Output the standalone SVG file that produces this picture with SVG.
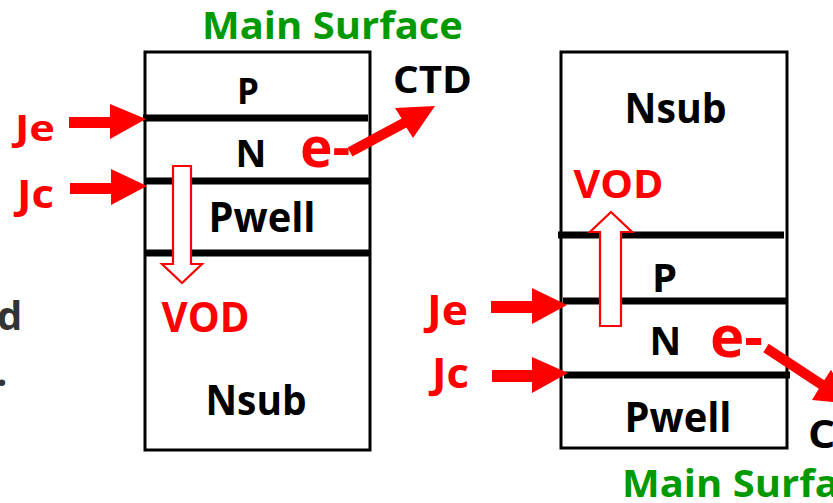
<svg xmlns="http://www.w3.org/2000/svg" width="833" height="503" viewBox="0 0 833 503">
<style>
text{font-family:"Open Sans",Lato,"Liberation Sans",sans-serif;font-weight:bold}
.k{fill:#000}
.r{fill:#ff0000}
.g{fill:#009a00}
.box{fill:#fff;stroke:#000;stroke-width:3}
.jn{stroke:#000;stroke-width:7;fill:none}
.ar{fill:#ff0000;stroke:none}
.hol{fill:#fff;stroke:#ff0000;stroke-width:2.2}
.doc{fill:#333}
</style>
<rect width="833" height="503" fill="#fff"/>
<g id="doc-fragments">
<text class="doc" x="-3" y="330" font-size="40">d</text>
<text class="doc" x="-4" y="386" font-size="40">.</text>
</g>
<g id="device-left">
<rect class="box" x="145" y="52" width="225" height="398"/>
<line class="jn" x1="143" y1="118" x2="368" y2="118"/>
<line class="jn" x1="145" y1="181" x2="370" y2="181"/>
<line class="jn" x1="145" y1="253" x2="370" y2="253"/>
</g>
<g id="label-main-surface-top"><text class="g" x="202" y="39" font-size="38" textLength="261" lengthAdjust="spacingAndGlyphs">Main Surface</text></g>
<g id="label-P-left"><text class="k" x="237" y="104" font-size="35">P</text></g>
<g id="label-N-left"><text class="k" x="235.5" y="167" font-size="38">N</text></g>
<g id="label-Pwell-left"><text class="k" x="208.5" y="232" font-size="41" textLength="107" lengthAdjust="spacingAndGlyphs">Pwell</text></g>
<g id="label-VOD-left"><text class="r" x="161.5" y="332" font-size="41" textLength="88" lengthAdjust="spacingAndGlyphs">VOD</text></g>
<g id="label-Nsub-left"><text class="k" x="205.5" y="415" font-size="41" textLength="101" lengthAdjust="spacingAndGlyphs">Nsub</text></g>
<g id="label-e-left"><text class="r" x="300" y="167" font-size="55">e-</text></g>
<g id="label-CTD-left"><text class="k" x="393" y="93" font-size="37" textLength="79" lengthAdjust="spacingAndGlyphs">CTD</text></g>
<g id="label-Je-left"><text class="r" x="15" y="141" font-size="35" textLength="40" lengthAdjust="spacingAndGlyphs">Je</text></g>
<g id="label-Jc-left"><text class="r" x="17" y="208" font-size="39" textLength="37" lengthAdjust="spacingAndGlyphs">Jc</text></g>

<g id="device-right">
<rect class="box" x="561" y="52" width="226" height="396"/>
<line class="jn" x1="558" y1="235" x2="784" y2="235"/>
<line class="jn" x1="563" y1="301" x2="788" y2="301"/>
<line class="jn" x1="564" y1="375" x2="790" y2="375"/>
</g>
<g id="label-Nsub-right"><text class="k" x="624.5" y="123" font-size="41" textLength="102" lengthAdjust="spacingAndGlyphs">Nsub</text></g>
<g id="label-VOD-right"><text class="r" x="573.5" y="198" font-size="40" textLength="90" lengthAdjust="spacingAndGlyphs">VOD</text></g>
<g id="label-P-right"><text class="k" x="652" y="292" font-size="40">P</text></g>
<g id="label-N-right"><text class="k" x="649.5" y="355" font-size="39">N</text></g>
<g id="label-e-right"><text class="r" x="710" y="357" font-size="58">e-</text></g>
<g id="label-Pwell-right"><text class="k" x="624.5" y="432" font-size="41" textLength="107" lengthAdjust="spacingAndGlyphs">Pwell</text></g>
<g id="label-CTD-right"><text class="k" x="808" y="448" font-size="40" textLength="84" lengthAdjust="spacingAndGlyphs">CTD</text></g>
<g id="label-main-surface-bottom"><text class="g" x="622" y="497" font-size="38" textLength="261" lengthAdjust="spacingAndGlyphs">Main Surface</text></g>
<g id="label-Je-right"><text class="r" x="427" y="325" font-size="41" textLength="41" lengthAdjust="spacingAndGlyphs">Je</text></g>
<g id="label-Jc-right"><text class="r" x="432" y="388" font-size="41" textLength="37" lengthAdjust="spacingAndGlyphs">Jc</text></g>

<g id="connectors">
<polygon class="ar" points="69,117 110,117 110,104 146,119 110,139 110,128 69,128"/>
<polygon class="ar" points="70,183 111,183 111,169 147,186 111,205 111,194 70,194"/>
<polygon class="ar" points="491,301 532,301 532,288 567,305 532,324 532,313 491,313"/>
<polygon class="ar" points="492,370 532,370 532,357 568,373 532,393 532,382 492,382"/>
<polygon class="ar" points="347.6,147.6 401.6,118.6 395,108 435,106 413,138 406.4,127.4 352.4,156.4"/>
<polygon class="ar" points="768.7,343.8 824.2,380.3 831,369.8 850.9,403.5 812,400 818.8,388.7 763.3,352.2"/>
<polygon class="hol" points="173,166 191,166 191,264 202,264 182,283 162,264 173,264"/>
<polygon class="hol" points="600,326 621,326 621,232 632,232 611,212 590,232 600,232"/>
</g>
</svg>
